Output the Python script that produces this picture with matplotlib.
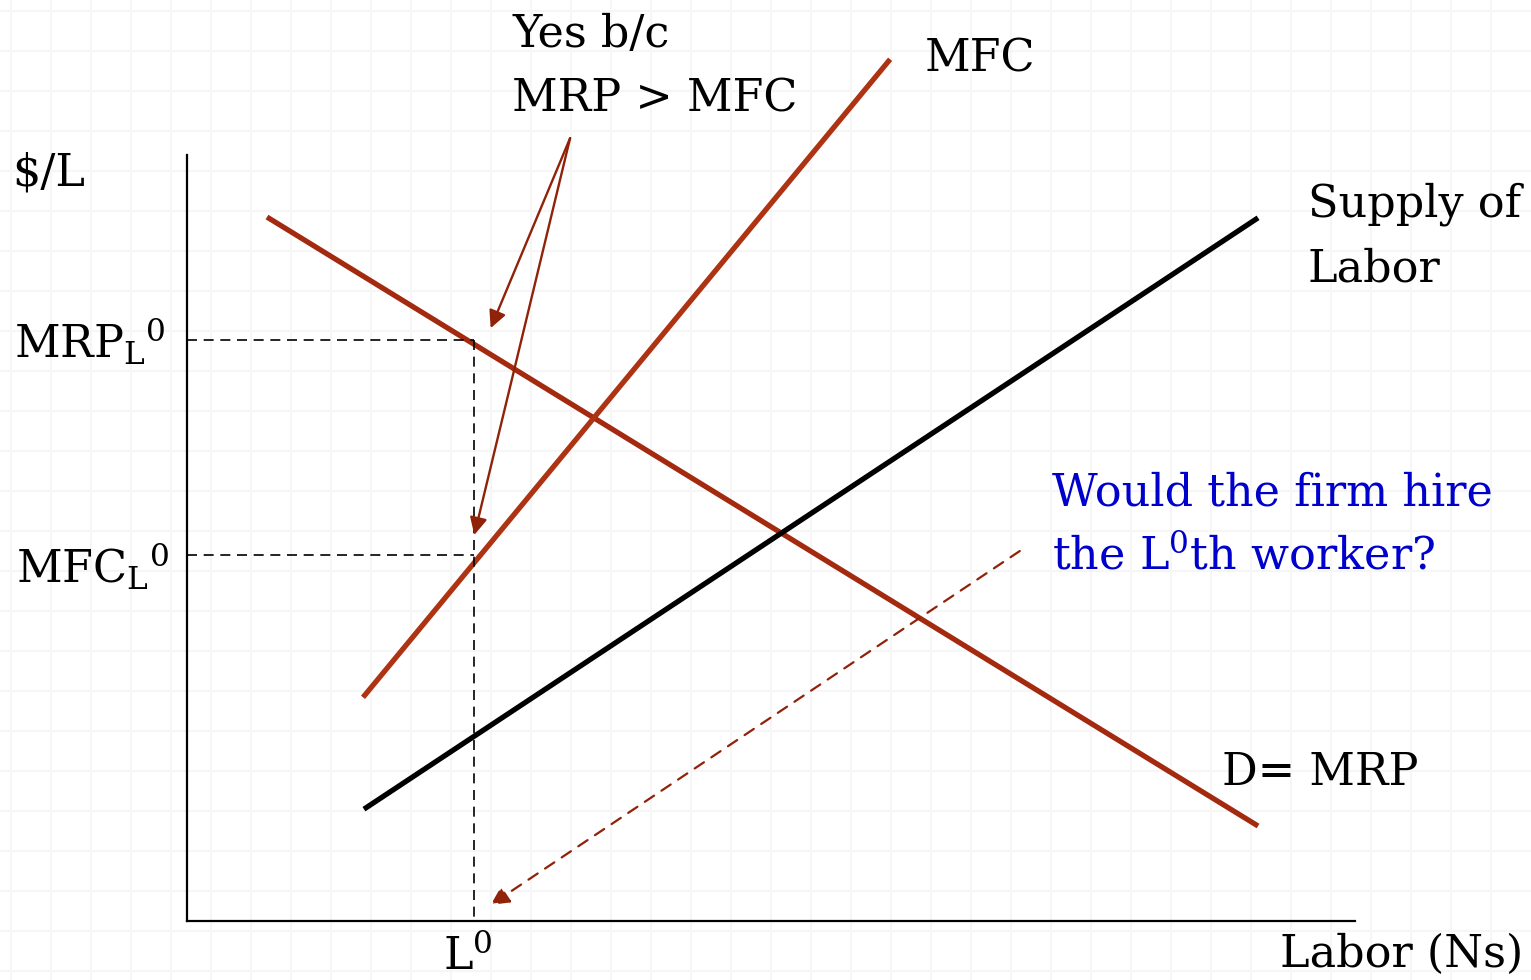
import matplotlib.pyplot as plt
import numpy as np

plt.rcParams['font.family'] = ['DejaVu Serif']
plt.rcParams['mathtext.fontset'] = 'custom'
plt.rcParams['mathtext.rm'] = 'DejaVu Serif'
plt.rcParams['mathtext.it'] = 'DejaVu Serif:italic'

W, H = 1531, 980

# curves (Labor on x, $/L on y)
mrp_x = [0.685, 9.17]
mrp_y = [9.19, 1.24]
mfc_x = [1.507, 6.02]
mfc_y = [2.92, 11.25]
supply_x = [1.515, 9.17]
supply_y = [1.46, 9.18]

# the L0-th worker
L0 = 2.46
mrp_L0 = 7.58
mfc_L0 = 4.78

# "Yes b/c" pointers
pointer_from = (3.28, 10.22)
pointer_to = [(2.60, 7.74), (2.46, 5.04)]
question_from = (7.13, 4.83)
question_to = (2.60, 0.21)

red = '#a3290f'
arrow_red = '#8f2208'
blue = '#0000cc'

fig = plt.figure(figsize=(W / 100, H / 100), dpi=100)

# faint background grid over the whole slide
bg = fig.add_axes([0, 0, 1, 1])
bg.set_xlim(0, W)
bg.set_ylim(H, 0)
bg.axis('off')
for g in np.arange(11, W, 40):
    bg.axvline(g, color='#f6f6f6', lw=1.6, zorder=0)
for g in np.arange(11, H, 40):
    bg.axhline(g, color='#f6f6f6', lw=1.6, zorder=0)

ax = fig.add_axes([187 / W, 1 - 921 / H, (1355 - 187) / W, (921 - 155) / H])
ax.patch.set_alpha(0)
ax.set_xlim(0, 10)
ax.set_ylim(0, 10)
for s in ['top', 'right']:
    ax.spines[s].set_visible(False)
for s in ['left', 'bottom']:
    ax.spines[s].set_linewidth(1.6)
ax.set_xticks([])
ax.set_yticks([])

ax.plot(mrp_x, mrp_y, color=red, lw=3.8, solid_capstyle='butt', clip_on=False)
ax.plot(mfc_x, mfc_y, color='#ad3312', lw=3.8, solid_capstyle='butt', clip_on=False)
ax.plot(supply_x, supply_y, color='black', lw=3.8, solid_capstyle='butt', clip_on=False)

ax.plot([0, L0], [mrp_L0, mrp_L0], color='black', lw=1.2, ls=(0, (6, 4)))
ax.plot([0, L0], [mfc_L0, mfc_L0], color='black', lw=1.2, ls=(0, (6, 4)))
ax.plot([L0, L0], [mrp_L0, 0], color='black', lw=1.2, ls=(0, (6, 4)))

for tgt in pointer_to:
    ax.annotate('', xy=tgt, xytext=pointer_from, annotation_clip=False,
                arrowprops=dict(arrowstyle='-|>', color=arrow_red, lw=1.7,
                                mutation_scale=26, shrinkA=0, shrinkB=0))
ax.annotate('', xy=question_to, xytext=question_from,
            arrowprops=dict(arrowstyle='-|>', color=arrow_red, lw=1.6,
                            ls=(0, (5, 4)), mutation_scale=28,
                            shrinkA=0, shrinkB=0))


def label(px, py, s, **kw):
    fig.text(px / W, 1 - py / H, s, fontsize=32, va='baseline', ha='left', **kw)


label(12, 185, '$/L')
label(14, 358, r'MRP$_\mathrm{L}$$^\mathrm{0}$')
label(16, 583, r'MFC$_\mathrm{L}$$^\mathrm{0}$')
label(512, 47, 'Yes b/c')
label(512, 112, 'MRP > MFC')
label(925, 72, 'MFC')
label(1308, 217, 'Supply of')
label(1308, 281, 'Labor')
label(1052, 505, 'Would the firm hire', color=blue)
label(1052, 569, r'the L$^\mathrm{0}$th worker?', color=blue)
label(1222, 785, 'D= MRP')
label(443, 970, r'L$^\mathrm{0}$')
label(1280, 967, 'Labor (Ns)')

fig.savefig('out.png', dpi=100)
